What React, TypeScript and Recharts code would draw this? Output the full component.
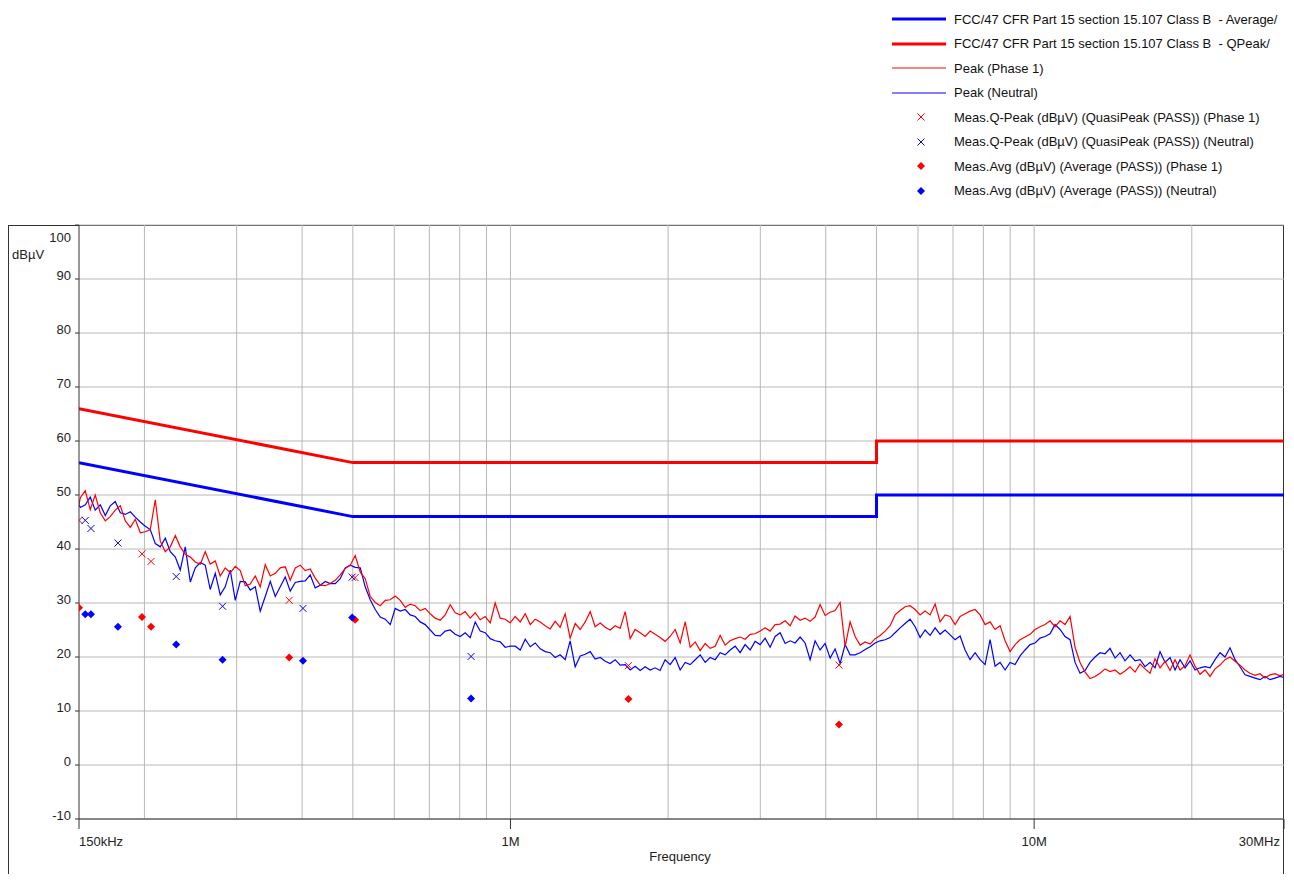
import React from "react";
import {
  ComposedChart,
  Line,
  Scatter,
  XAxis,
  YAxis,
  CartesianGrid,
  ReferenceLine,
} from "recharts";

// sweep frequencies in kHz (log spaced, shared by both peak traces)
const sweepKHz = [
  150, 150.9, 154.2, 157.6, 161.1, 164.7, 168.4, 172.1, 175.9, 179.9, 183.9,
  188.0, 192.1, 196.4, 200.8, 205.2, 209.8, 214.4, 219.2, 224.1, 229.1,
  234.1, 239.3, 244.7, 250.1, 255.7, 261.3, 267.1, 273.1, 279.1, 285.3,
  291.7, 298.2, 304.8, 311.6, 318.5, 325.6, 332.8, 340.2, 347.8, 355.5,
  363.4, 371.5, 379.7, 388.2, 396.8, 405.6, 414.6, 423.8, 433.3, 442.9,
  452.7, 462.8, 473.1, 483.6, 494.3, 505.3, 516.6, 528.0, 539.8, 551.8,
  564.0, 576.6, 589.4, 602.5, 615.9, 629.6, 643.5, 657.8, 672.5, 687.4,
  702.7, 718.3, 734.3, 750.6, 767.3, 784.3, 801.7, 819.5, 837.8, 856.4,
  875.4, 894.9, 914.8, 935.1, 955.9, 977.1, 998.8, 1021, 1044, 1067,
  1091, 1115, 1140, 1165, 1191, 1217, 1244, 1272, 1300, 1329,
  1359, 1389, 1420, 1451, 1484, 1517, 1550, 1585, 1620, 1656,
  1693, 1730, 1769, 1808, 1848, 1889, 1931, 1974, 2018, 2063,
  2109, 2156, 2204, 2253, 2303, 2354, 2406, 2460, 2514, 2570,
  2627, 2686, 2745, 2806, 2869, 2932, 2998, 3064, 3132, 3202,
  3273, 3346, 3420, 3496, 3574, 3653, 3734, 3817, 3902, 3989,
  4078, 4168, 4261, 4356, 4452, 4551, 4653, 4756, 4862, 4970,
  5080, 5193, 5308, 5426, 5547, 5670, 5796, 5925, 6057, 6191,
  6329, 6470, 6613, 6760, 6910, 7064, 7221, 7381, 7545, 7713,
  7885, 8060, 8239, 8422, 8609, 8801, 8996, 9196, 9400, 9609,
  9823, 10041, 10264, 10492, 10725, 10964, 11207, 11457, 11711, 11971,
  12237, 12509, 12787, 13071, 13362, 13659, 13962, 14272, 14589, 14913,
  15246, 15585, 15931, 16285, 16647, 17017, 17395, 17781, 18177, 18580,
  18994, 19416, 19847, 20289, 20740, 21200, 21671, 22153, 22645, 23148,
  23662, 24188, 24725, 25275, 25836, 26410, 26997, 27597, 28210, 28837,
  29479, 30000,
];

// Peak (Phase 1), dBuV
const peakPhase1 = [
  48.2, 49.5, 50.8, 47.3, 50.0, 46.7, 45.2, 46.0, 47.2, 48.0, 45.2,
  44.0, 45.5, 43.0, 43.2, 43.6, 49.1, 41.5, 39.5, 40.4, 42.5,
  40.4, 39.0, 38.5, 37.6, 37.2, 39.5, 37.2, 37.8, 35.0, 36.5,
  35.6, 36.8, 36.0, 33.2, 33.5, 35.0, 33.0, 37.1, 35.0, 35.5,
  36.5, 36.7, 34.2, 36.5, 37.0, 36.0, 36.3, 34.6, 33.3, 33.2,
  33.6, 34.2, 35.2, 36.4, 37.0, 38.8, 35.7, 34.5, 31.2, 30.1,
  29.5, 30.5, 30.6, 31.3, 30.5, 29.2, 29.8, 29.5, 28.6, 29.0,
  28.0, 27.2, 26.8, 27.8, 29.7, 28.2, 27.8, 28.4, 27.2, 28.2,
  26.9, 27.5, 26.3, 30.0, 27.2, 27.0, 26.3, 27.5, 26.5, 28.0,
  26.0, 27.0, 26.5, 25.8, 25.2, 26.6, 25.5, 28.0, 23.5, 26.2,
  25.1, 26.5, 28.4, 25.6, 26.3, 25.5, 25.0, 25.8, 25.3, 28.4,
  23.4, 25.1, 24.5, 23.8, 24.8, 24.2, 23.6, 22.9, 23.8, 25.1,
  22.6, 26.5, 21.8, 22.8, 21.2, 22.5, 21.6, 22.0, 24.0, 22.2,
  23.0, 23.4, 23.7, 23.3, 24.2, 24.3, 24.8, 25.4, 24.8, 26.0,
  26.1, 26.7, 25.8, 27.6, 26.8, 27.2, 26.6, 27.4, 29.7, 27.7,
  28.3, 28.6, 30.1, 21.9, 26.5, 23.8, 22.2, 22.8, 22.4, 23.4,
  24.0, 24.8, 25.8, 27.8, 28.6, 29.3, 29.5, 28.8, 27.8, 28.5,
  27.8, 29.8, 26.5, 27.8, 27.5, 26.0, 27.5, 28.0, 28.5, 28.8,
  27.8, 26.0, 26.5, 25.1, 25.8, 23.0, 21.0, 22.3, 23.2, 23.7,
  24.2, 25.1, 25.6, 26.0, 26.7, 25.6, 26.7, 26.0, 27.5, 21.8,
  19.0, 17.2, 16.0, 16.4, 17.0, 17.8, 17.3, 17.6, 16.8, 17.4,
  18.2, 17.2, 18.7, 17.8, 17.0, 19.7, 18.0, 19.2, 17.5, 19.5,
  17.6, 18.4, 20.4, 18.3, 16.8, 17.6, 16.4, 17.8, 18.5, 19.5,
  20.0, 19.2, 18.5, 17.6, 17.0, 16.6, 16.9, 16.1, 16.7, 16.9,
  16.5, 16.8,
];

// Peak (Neutral), dBuV
const peakNeutral = [
  48.2, 47.7, 48.2, 49.6, 47.2, 48.2, 46.2, 48.0, 48.8, 46.7, 46.4,
  46.9, 45.9, 45.0, 44.2, 43.6, 41.0, 40.4, 42.0, 39.5, 38.5,
  36.1, 40.4, 33.9, 36.5, 37.5, 37.0, 32.5, 35.5, 31.5, 33.0,
  36.1, 30.5, 34.0, 33.9, 32.4, 33.0, 28.5, 31.2, 34.0, 31.2,
  33.0, 34.8, 32.2, 33.8, 34.0, 34.1, 35.2, 32.8, 33.3, 34.0,
  33.6, 33.6, 34.5, 36.5, 37.0, 36.6, 36.5, 33.0, 30.6, 28.8,
  27.4, 27.0, 26.0, 29.0, 28.5, 28.8, 27.8, 27.5, 26.5, 26.0,
  25.0, 24.0, 23.9, 24.8, 25.0, 24.2, 23.8, 24.5, 23.6, 26.5,
  24.8, 24.5, 23.4, 23.0, 22.8, 21.8, 22.0, 22.0, 21.3, 23.3,
  21.9, 22.6, 21.5, 21.0, 20.8, 19.9, 20.4, 19.5, 23.0, 18.2,
  20.2, 20.5, 21.0, 19.6, 19.9, 19.2, 18.8, 19.5, 18.5, 18.6,
  17.6, 18.3, 17.5, 18.2, 17.6, 18.0, 17.5, 19.5, 18.6, 19.9,
  17.6, 19.0, 18.6, 19.5, 20.4, 19.0, 19.9, 19.5, 20.8, 20.4,
  21.3, 22.0, 20.8, 22.3, 21.3, 22.9, 22.3, 23.5, 21.8, 23.8,
  24.5, 22.5, 23.0, 22.6, 23.7, 22.6, 19.5, 23.0, 21.3, 22.5,
  19.8, 21.5, 18.8, 22.3, 20.4, 20.4, 20.8, 21.4, 21.9, 22.6,
  23.0, 23.2, 23.6, 24.5, 25.4, 26.2, 27.0, 25.6, 23.6, 25.0,
  24.0, 25.4, 24.2, 25.0, 24.1, 23.2, 23.9, 21.3, 19.5, 20.8,
  19.5, 18.6, 23.2, 18.3, 19.0, 17.6, 19.0, 18.6, 20.2, 21.3,
  22.3, 22.6, 23.5, 23.8, 24.3, 26.0, 25.1, 23.8, 23.2, 19.0,
  17.0, 17.5, 19.0, 20.0, 20.8, 20.6, 21.6, 19.8, 20.8, 19.3,
  20.4, 19.3, 19.5, 18.2, 19.0, 18.0, 21.0, 19.0, 19.9, 17.6,
  19.5, 18.0, 19.3, 17.6, 18.0, 18.2, 18.0, 19.5, 20.8, 20.0,
  21.7, 19.5, 18.2, 16.7, 16.4, 16.1, 15.8, 16.4, 15.8, 16.1,
  16.4, 16.2,
];

// FCC Part 15.107 Class B limits
const limitKHz = [150, 500, 5000, 5000, 30000];
const limitQPeak = [66, 56, 56, 60, 60];
const limitAverage = [56, 46, 46, 50, 50];

// final measurements
const measPhaseKHz = [150, 197.9, 205.9, 378, 505, 1680, 4240];
const qpPhase1 = [45.3, 39.1, 37.7, 30.5, 34.7, 18.4, 18.5];
const avgPhase1 = [29.1, 27.4, 25.6, 19.9, 26.9, 12.2, 7.5];
const measNeutralKHz = [154.2, 158.1, 178, 230, 282, 401.6, 498.6, 841];
const qpNeutral = [45.3, 43.8, 41.1, 34.9, 29.4, 29.0, 34.8, 20.1];
const avgNeutral = [27.9, 27.9, 25.6, 22.3, 19.5, 19.3, 27.3, 12.3];

const yTicks = [-10, 0, 10, 20, 30, 40, 50, 60, 70, 80, 90, 100];
const xTicks = [150, 1000, 10000, 30000];
const xTickLabels: Record<number, string> = { 150: "150kHz", 1000: "1M", 10000: "10M", 30000: "30MHz" };
const gridKHz = [200, 300, 400, 500, 600, 700, 800, 900, 1000, 2000, 3000, 4000, 5000, 6000, 7000, 8000, 9000, 10000, 20000];

const RED = "#ff0000";
const BLUE = "#0000ff";
const GRID = "#b8b8b8";
const FONT = "Arial, 'Liberation Sans', sans-serif";

const zip = (fs: number[], vs: number[]) => fs.map((f, i) => ({ f, v: vs[i] }));

const XMark = (color: string) => (props: any) => {
  const { cx, cy } = props;
  const s = 3.5;
  return (
    <path
      d={`M${cx - s},${cy - s}L${cx + s},${cy + s}M${cx - s},${cy + s}L${cx + s},${cy - s}`}
      stroke={color}
      strokeWidth={1}
      fill="none"
    />
  );
};

const Diamond = (color: string) => (props: any) => {
  const { cx, cy } = props;
  const s = 4;
  return <path d={`M${cx},${cy - s}L${cx + s},${cy}L${cx},${cy + s}L${cx - s},${cy}Z`} fill={color} />;
};

const YTick = ({ y, payload }: any) => (
  <text x={63} y={y + (payload.value === 100 ? 17 : 1)} textAnchor="end" fontSize={13} fill="#222" fontFamily={FONT}>
    {payload.value}
  </text>
);

const XTick = ({ x, y, payload }: any) => {
  const v = payload.value;
  const anchor = v === 150 ? "start" : v === 30000 ? "end" : "middle";
  const dx = v === 30000 ? -4 : 0;
  return (
    <text x={x + dx} y={y + 15} textAnchor={anchor} fontSize={13} fill="#222" fontFamily={FONT}>
      {xTickLabels[v]}
    </text>
  );
};

const legendItems = [
  { label: "FCC/47 CFR Part 15 section 15.107 Class B  - Average/", kind: "thick", color: BLUE },
  { label: "FCC/47 CFR Part 15 section 15.107 Class B  - QPeak/", kind: "thick", color: RED },
  { label: "Peak (Phase 1)", kind: "thin", color: RED },
  { label: "Peak (Neutral)", kind: "thin", color: BLUE },
  { label: "Meas.Q-Peak (dBµV) (QuasiPeak (PASS)) (Phase 1)", kind: "x", color: RED },
  { label: "Meas.Q-Peak (dBµV) (QuasiPeak (PASS)) (Neutral)", kind: "x", color: BLUE },
  { label: "Meas.Avg (dBµV) (Average (PASS)) (Phase 1)", kind: "diamond", color: RED },
  { label: "Meas.Avg (dBµV) (Average (PASS)) (Neutral)", kind: "diamond", color: BLUE },
];

const LegendSwatch = ({ kind, color }: { kind: string; color: string }) => (
  <svg width={54} height={12} style={{ display: "block" }}>
    {kind === "thick" && <line x1={0} x2={54} y1={6} y2={6} stroke={color} strokeWidth={3} />}
    {kind === "thin" && <line x1={0} x2={54} y1={6} y2={6} stroke={color} strokeWidth={1} />}
    {kind === "x" && <path d="M25.5,2.5L32.5,9.5M25.5,9.5L32.5,2.5" stroke={color} strokeWidth={1} />}
    {kind === "diamond" && <path d="M29,2L33,6L29,10L25,6Z" fill={color} />}
  </svg>
);

export default function App() {
  const phaseData = zip(sweepKHz, peakPhase1);
  const neutralData = zip(sweepKHz, peakNeutral);
  const qpLimit = zip(limitKHz, limitQPeak);
  const avgLimit = zip(limitKHz, limitAverage);

  return (
    <div style={{ position: "relative", width: 1278, height: 866, fontFamily: FONT, overflow: "hidden" }}>
      {/* outer frame */}
      <div
        style={{
          position: "absolute",
          left: 0,
          top: 217,
          width: 1276,
          height: 700,
          borderLeft: "1px solid #333",
          borderTop: "1px solid #333",
          borderRight: "1px solid #333",
          boxSizing: "border-box",
        }}
      />
      <div style={{ position: "absolute", left: 884, top: -1 }}>
        {legendItems.map((it) => (
          <div key={it.label} style={{ display: "flex", alignItems: "center", height: 24.5 }}>
            <LegendSwatch kind={it.kind} color={it.color} />
            <span style={{ marginLeft: 8, fontSize: 13, color: "#111", whiteSpace: "pre" }}>{it.label}</span>
          </div>
        ))}
      </div>
      <div style={{ position: "absolute", left: 4, top: 239, fontSize: 13, color: "#222" }}>dBµV</div>
      <div style={{ position: "absolute", left: 672, top: 841, fontSize: 13, color: "#222", transform: "translateX(-50%)" }}>
        Frequency
      </div>
      <div style={{ position: "absolute", left: 0, top: 0 }}>
        <ComposedChart width={1278} height={866} margin={{ top: 217, right: 2, bottom: 0, left: 0 }}>
          <CartesianGrid vertical={false} stroke={GRID} />
          {gridKHz.map((g) => (
            <ReferenceLine key={g} x={g} stroke={GRID} />
          ))}
          <XAxis
            dataKey="f"
            type="number"
            scale="log"
            domain={[150, 30000]}
            allowDataOverflow
            ticks={xTicks}
            tick={<XTick />}
            tickSize={10}
            height={55}
            stroke="#333"
            interval={0}
          />
          <YAxis
            type="number"
            domain={[-10, 100]}
            ticks={yTicks}
            tick={<YTick />}
            tickSize={4}
            width={71}
            stroke="#333"
            interval={0}
            allowDataOverflow
          />
          <Line data={qpLimit} dataKey="v" stroke={RED} strokeWidth={3} dot={false} isAnimationActive={false} type="linear" />
          <Line data={avgLimit} dataKey="v" stroke={BLUE} strokeWidth={3} dot={false} isAnimationActive={false} type="linear" />
          <Line data={neutralData} dataKey="v" stroke={BLUE} strokeWidth={1.2} dot={false} isAnimationActive={false} type="linear" />
          <Line data={phaseData} dataKey="v" stroke={RED} strokeWidth={1.2} dot={false} isAnimationActive={false} type="linear" />
          <Scatter data={zip(measPhaseKHz, qpPhase1)} dataKey="v" shape={XMark(RED)} isAnimationActive={false} />
          <Scatter data={zip(measNeutralKHz, qpNeutral)} dataKey="v" shape={XMark(BLUE)} isAnimationActive={false} />
          <Scatter data={zip(measPhaseKHz, avgPhase1)} dataKey="v" shape={Diamond(RED)} isAnimationActive={false} />
          <Scatter data={zip(measNeutralKHz, avgNeutral)} dataKey="v" shape={Diamond(BLUE)} isAnimationActive={false} />
        </ComposedChart>
      </div>
    </div>
  );
}
